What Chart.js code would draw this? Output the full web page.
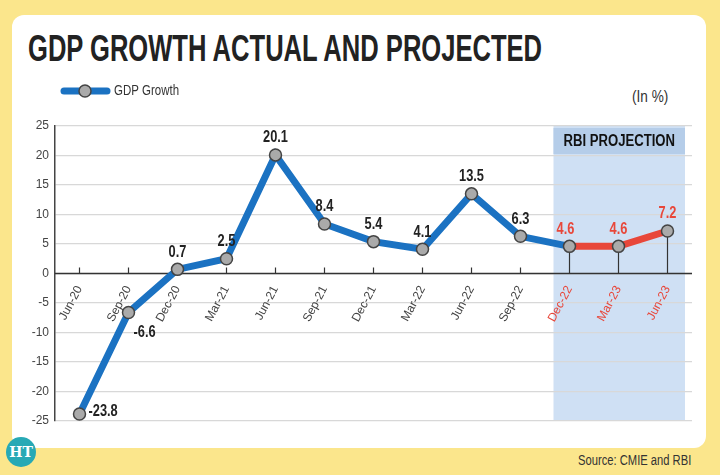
<!DOCTYPE html>
<html><head><meta charset="utf-8">
<script src="https://cdn.jsdelivr.net/npm/chart.js@4.4.0/dist/chart.umd.min.js"></script>
<style>
body{margin:0;width:720px;height:475px;background:#fbe68c;position:relative;overflow:hidden;font-family:'Liberation Sans',sans-serif;}
#card{position:absolute;left:12px;top:15px;width:694px;height:433px;background:#fff;border-radius:12px;}
#title{position:absolute;left:28px;top:28px;font-size:36px;font-weight:bold;color:#222;white-space:nowrap;transform:scaleX(0.71);transform-origin:left;}
#unit{position:absolute;left:632px;top:88px;font-size:16px;color:#333;transform:scaleX(0.85);transform-origin:left;white-space:nowrap;}
#src{position:absolute;left:578px;top:452px;font-size:14px;color:#333;transform:scaleX(0.8);transform-origin:left;white-space:nowrap;}
#ht{position:absolute;left:6px;top:437px;width:30px;height:30px;border-radius:50%;background:#27a9b5;color:#fff;font:bold 14px 'DejaVu Serif',serif;text-align:center;line-height:30px;}
canvas{position:absolute;left:0;top:0;}
</style></head><body>
<div id="card"></div>
<div id="title">GDP GROWTH ACTUAL AND PROJECTED</div>
<div id="unit">(In %)</div>
<div id="src">Source: CMIE and RBI</div>
<div id="ht">HT</div>
<canvas id="c" width="720" height="475"></canvas>
<script>
const categories=['Jun-20','Sep-20','Dec-20','Mar-21','Jun-21','Sep-21','Dec-21','Mar-22','Jun-22','Sep-22','Dec-22','Mar-23','Jun-23'];
const gdpGrowth=[-23.8,-6.6,0.7,2.5,20.1,8.4,5.4,4.1,13.5,6.3,4.6,4.6,7.2];
const yTicks=[-25,-20,-15,-10,-5,0,5,10,15,20,25];
const projectionStart=10;
const FONT="'Liberation Sans',sans-serif";
const BLUE='#1b72c2', RED='#e8473a';
function condText(ctx,t,x,y,s){ctx.save();ctx.translate(x,y);ctx.scale(s,1);ctx.fillText(t,0,0);ctx.restore();}

const deco={id:'deco',
beforeDraw(ch){const {ctx,chartArea:a,scales:{x,y}}=ch;
  const x0=x.getPixelForValue(projectionStart)-16, x1=a.right-7;
  ctx.save();ctx.fillStyle='#cfe0f4';ctx.fillRect(x0,a.top,x1-x0,a.bottom-a.top);
  ctx.fillStyle='#b5cde9';ctx.fillRect(x0,a.top+2,x1-x0,26);
  ctx.fillStyle='#111';ctx.font='bold 16px '+FONT;ctx.textAlign='center';ctx.textBaseline='middle';
  condText(ctx,'RBI PROJECTION',(x0+x1)/2,a.top+16,0.82);
  ctx.strokeStyle=BLUE;ctx.lineWidth=7;ctx.lineCap='round';ctx.beginPath();ctx.moveTo(64,91);ctx.lineTo(107,91);ctx.stroke();
  ctx.fillStyle='#aaa';ctx.strokeStyle='#444';ctx.lineWidth=1.5;ctx.beginPath();ctx.arc(85,91,6,0,7);ctx.fill();ctx.stroke();
  ctx.fillStyle='#333';ctx.font='14px '+FONT;ctx.textAlign='left';condText(ctx,'GDP Growth',114,91,0.82);
  ctx.restore();},
beforeDatasetsDraw(ch){const {ctx,scales:{x,y}}=ch;const z=y.getPixelForValue(0);
  ctx.save();ctx.strokeStyle='#333';ctx.lineWidth=1.2;
  categories.forEach((c,i)=>{const px=x.getPixelForValue(i);ctx.beginPath();
    if(i>=projectionStart){ctx.moveTo(px,y.getPixelForValue(gdpGrowth[i]));}else{ctx.moveTo(px,z-6);}
    ctx.lineTo(px,z);ctx.stroke();});
  ctx.lineWidth=1.5;ctx.beginPath();ctx.moveTo(ch.chartArea.left,z);ctx.lineTo(ch.chartArea.right,z);ctx.stroke();
  ctx.restore();},
afterDraw(ch){const {ctx,scales:{x,y}}=ch;ctx.save();ctx.font='bold 16px '+FONT;
  gdpGrowth.forEach((v,i)=>{let px=x.getPixelForValue(i),py=y.getPixelForValue(v);
    ctx.fillStyle=i>=projectionStart?RED:'#222';
    if(v<-5){ctx.textAlign='left';ctx.textBaseline='middle';condText(ctx,v.toFixed(1),px+(i==1?5:9),py+(i==1?20:-2),0.8);}
    else{ctx.textAlign='center';ctx.textBaseline='bottom';condText(ctx,v.toFixed(1),px+(i==10?-4:0),py-9,0.8);}
  });ctx.restore();}
};

new Chart(document.getElementById('c'),{type:'line',
data:{labels:categories,datasets:[{label:'GDP Growth',data:gdpGrowth,borderColor:BLUE,borderWidth:7,
  segment:{borderColor:c=>c.p0DataIndex>=projectionStart?RED:BLUE},
  pointRadius:6,pointHoverRadius:6,pointBackgroundColor:'#aaa',pointBorderColor:'#444',pointBorderWidth:1.5,tension:0}]},
options:{responsive:false,animation:false,events:[],
 layout:{padding:{left:20,right:28,top:126,bottom:54}},
 plugins:{legend:{display:false},tooltip:{enabled:false}},
 scales:{
  x:{position:{y:0},offset:true,grid:{display:false},border:{display:false},
    ticks:{maxRotation:62,minRotation:62,font:{family:FONT,size:12},padding:2,
      color:c=>c.index>=projectionStart?RED:'#444'}},
  y:{min:-25,max:25,afterBuildTicks(s){s.ticks=yTicks.map(v=>({value:v}));},
    afterFit(s){s.width=35;},
    grid:{color:'#d8d8d8',lineWidth:1.2,drawTicks:false},border:{color:'#444',width:1.5},
    ticks:{font:{family:FONT,size:12},color:'#444',padding:6}}}},
plugins:[deco]});
</script></body></html>
